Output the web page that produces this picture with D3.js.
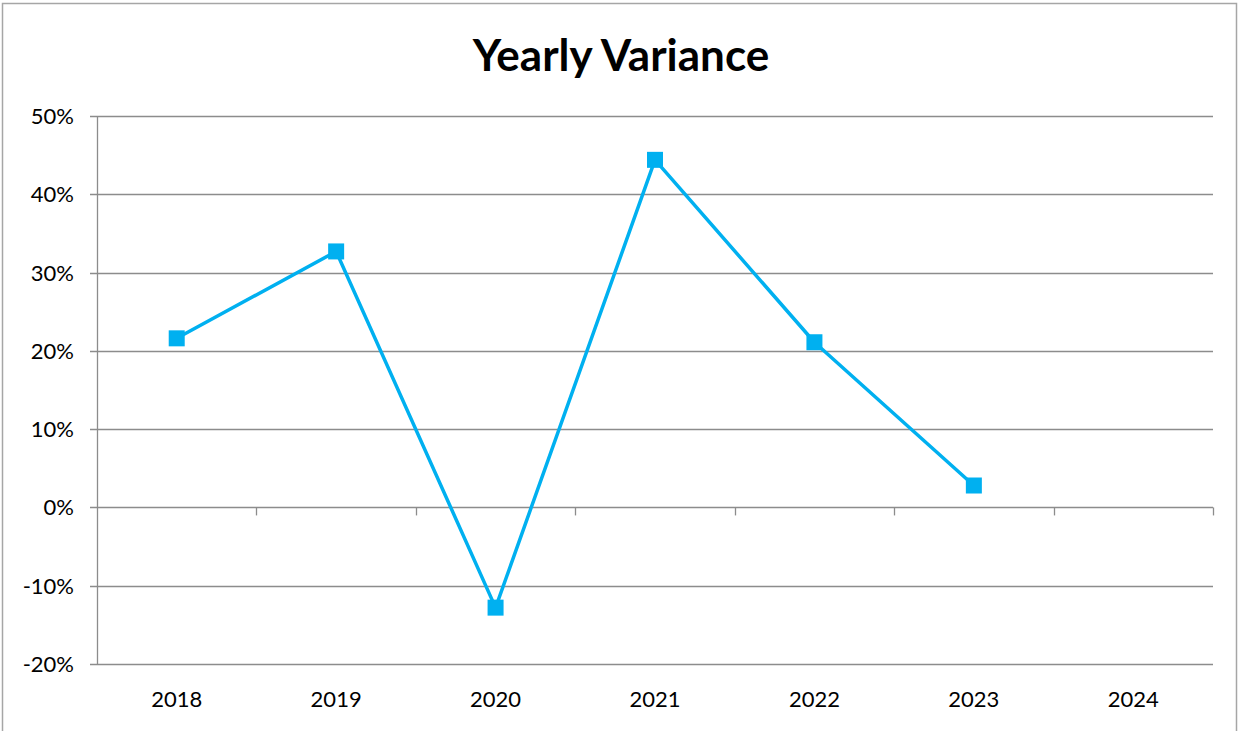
<!DOCTYPE html>
<html>
<head>
<meta charset="utf-8">
<script src="https://cdn.jsdelivr.net/npm/d3@7"></script>
<style>
  body { margin: 0; background: #fff; }
  svg text { font-family: Lato, "Open Sans", sans-serif; fill: #000; }
</style>
</head>
<body>
<svg id="chart" width="1239" height="731"></svg>
<script>
var years = ["2018", "2019", "2020", "2021", "2022", "2023", "2024"];
var variance = [0.216, 0.327, -0.128, 0.444, 0.211, 0.028, null];
var yTicks = [-0.2, -0.1, 0, 0.1, 0.2, 0.3, 0.4, 0.5];

(function() {
    var svg = d3.select("#chart");
    var plotLeft = 97, plotRight = 1213, plotTop = 116, plotBottom = 664;
    var gridColor = "#8c8c8c";
    var lineColor = "#00b0f0";

    // chart border
    svg.append("rect")
        .attr("x", 2.5).attr("y", 3.5)
        .attr("width", 1234).attr("height", 740)
        .attr("fill", "none").attr("stroke", "#a6a6a6").attr("stroke-width", 1.5);

    svg.append("text")
        .attr("x", 621).attr("y", 71)
        .attr("text-anchor", "middle")
        .style("font-size", "44px").style("font-weight", "bold")
        .text("Yearly Variance");

    var x = d3.scaleBand().domain(years).range([plotLeft, plotRight]);
    var y = d3.scaleLinear().domain([-0.2, 0.5]).range([plotBottom, plotTop]);

    // horizontal gridlines + y tick marks
    svg.append("g").selectAll("line")
        .data(yTicks)
        .enter().append("line")
        .attr("x1", plotLeft - 7).attr("x2", plotRight)
        .attr("y1", function(d) { return Math.round(y(d)) + 0.5; })
        .attr("y2", function(d) { return Math.round(y(d)) + 0.5; })
        .attr("stroke", gridColor).attr("stroke-width", 1.3);

    svg.append("g").selectAll("text")
        .data(yTicks)
        .enter().append("text")
        .attr("x", 74)
        .attr("y", function(d) { return y(d) + 8; })
        .attr("text-anchor", "end")
        .style("font-size", "22px")
        .text(function(d) { return Math.round(d * 100) + "%"; });

    // y axis line
    svg.append("line")
        .attr("x1", plotLeft + 0.5).attr("x2", plotLeft + 0.5)
        .attr("y1", plotTop).attr("y2", plotBottom)
        .attr("stroke", gridColor).attr("stroke-width", 1.3);

    // category tick marks on the zero line
    var bounds = years.slice(1).map(function(d) { return x(d); }).concat([plotRight]);
    svg.append("g").selectAll("line")
        .data(bounds)
        .enter().append("line")
        .attr("x1", function(d) { return Math.round(d) + 0.5; })
        .attr("x2", function(d) { return Math.round(d) + 0.5; })
        .attr("y1", y(0)).attr("y2", y(0) + 8)
        .attr("stroke", gridColor).attr("stroke-width", 1.3);

    svg.append("g").selectAll("text")
        .data(years)
        .enter().append("text")
        .attr("x", function(d) { return x(d) + x.bandwidth() / 2; })
        .attr("y", 707)
        .attr("text-anchor", "middle")
        .style("font-size", "22px")
        .text(function(d) { return d; });

    var points = years.map(function(d, i) { return { year: d, v: variance[i] }; })
        .filter(function(d) { return d.v !== null; });

    var line = d3.line()
        .x(function(d) { return x(d.year) + x.bandwidth() / 2; })
        .y(function(d) { return y(d.v); });

    svg.append("path")
        .datum(points)
        .attr("d", line)
        .attr("fill", "none")
        .attr("stroke", lineColor)
        .attr("stroke-width", 3.5)
        .attr("stroke-linejoin", "round");

    var ms = 16;
    svg.append("g").selectAll("rect")
        .data(points)
        .enter().append("rect")
        .attr("x", function(d) { return x(d.year) + x.bandwidth() / 2 - ms / 2; })
        .attr("y", function(d) { return y(d.v) - ms / 2; })
        .attr("width", ms).attr("height", ms)
        .attr("fill", lineColor);
})();
</script>
</body>
</html>
